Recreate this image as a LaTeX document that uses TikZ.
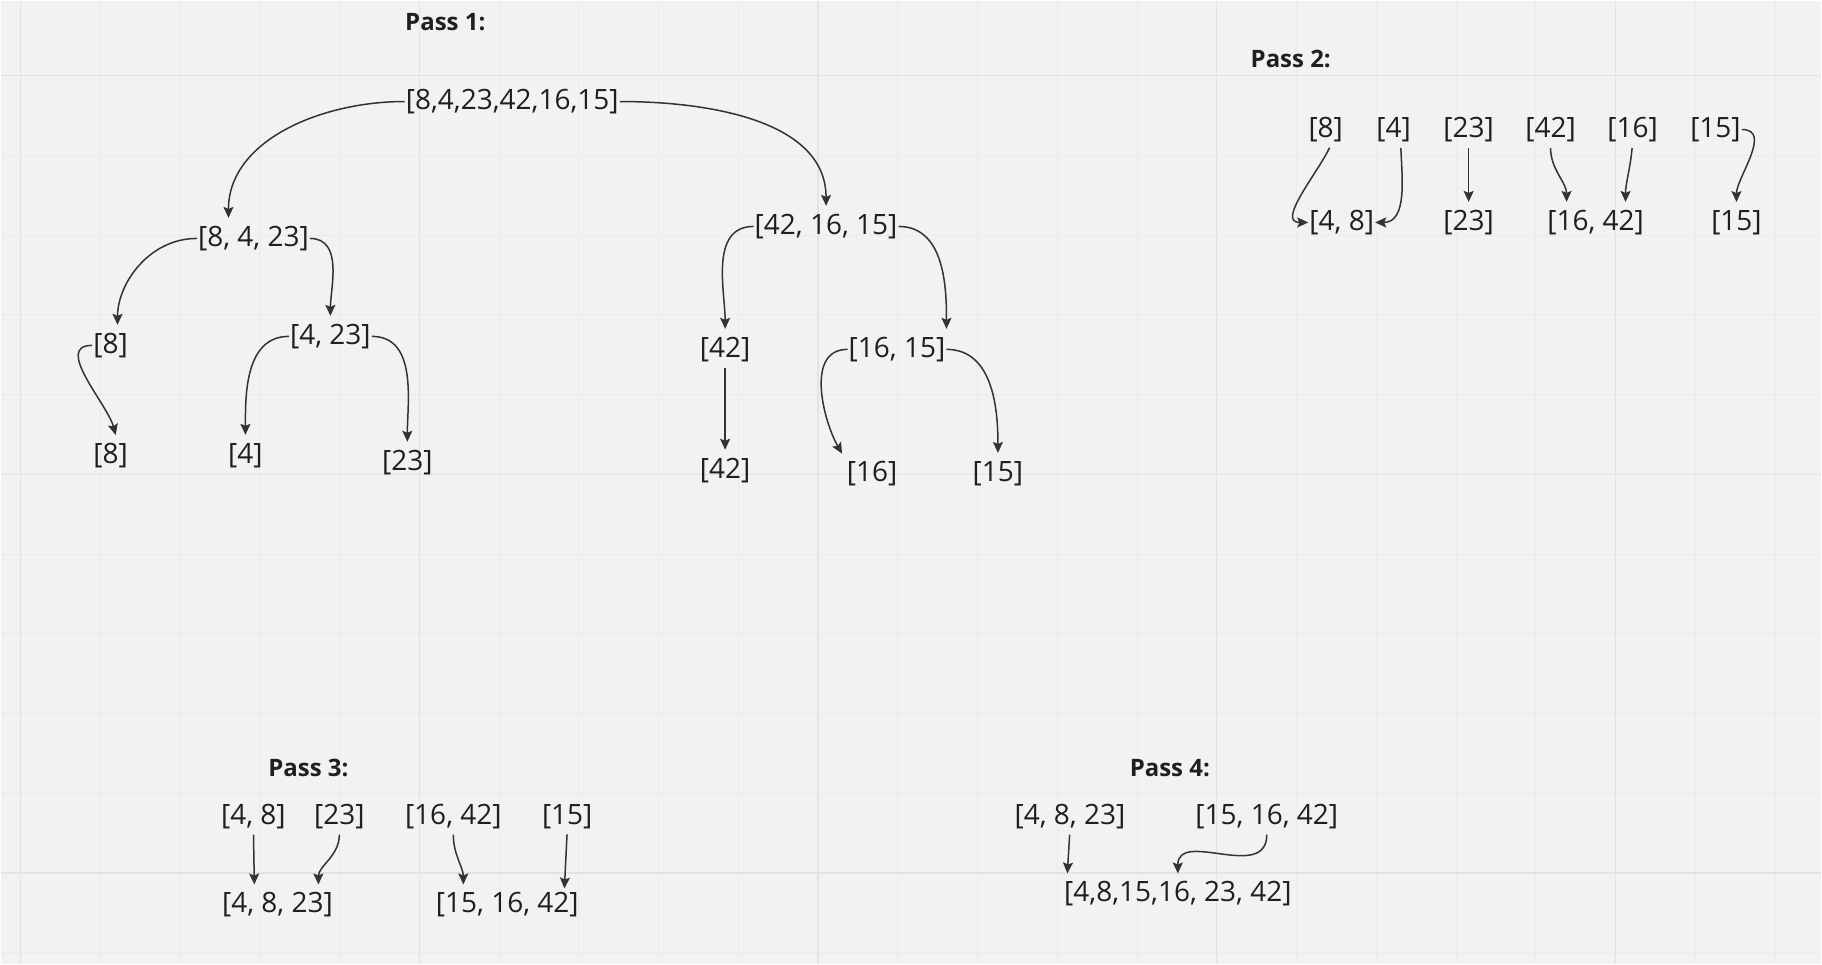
\documentclass[tikz,border=0pt]{standalone}
\usepackage{fontspec}
\setmainfont{Open Sans}
\usetikzlibrary{arrows.meta}

\begin{document}
\begin{tikzpicture}[x=1pt,y=-1pt,
		list/.style={inner sep=1pt,text=black!88,font=\fontsize{28}{32}\selectfont},
		passlabel/.style={inner sep=0pt,text=black!88,font=\fontsize{24}{28}\selectfont\bfseries},
		link/.style={color=black!80,line width=1.5pt,shorten >=7pt,-{Stealth[length=11pt,width=10pt,inset=2pt]}}]
		% board with grid
		\fill[black!5] (0,0) rectangle (1822,964);
		\foreach \k in {0,...,22}
			\draw[black!8,line width=1pt] (20+79.8*\k,0) -- (20+79.8*\k,964);
		\foreach \k in {0,...,11}
			\draw[black!8,line width=1pt] (0,75+79.8*\k) -- (1822,75+79.8*\k);
		\foreach \k in {0,...,4}
			\draw[black!11,line width=1.2pt] (20+399*\k,0) -- (20+399*\k,964);
		\foreach \k in {0,...,2}
			\draw[black!11,line width=1.2pt] (0,75+399*\k) -- (1822,75+399*\k);
		% pass 1
		\draw (445,22) node [passlabel] (p1) {Pass 1:};
		\draw (512,101) node [list] (all) {[8,4,23,42,16,15]};
		\draw (253,238) node [list] (l843) {[8, 4, 23]};
		\draw (826,226) node [list] (r4216) {[42, 16, 15]};
		\draw (110,345) node [list] (l8) {[8]};
		\draw (330,336) node [list] (l423) {[4, 23]};
		\draw (725,349) node [list] (r42) {[42]};
		\draw (897,349) node [list] (r1615) {[16, 15]};
		\draw (110,455) node [list] (l8b) {[8]};
		\draw (245,455) node [list] (l4) {[4]};
		\draw (407,462) node [list] (l23) {[23]};
		\draw (725,470) node [list] (r42b) {[42]};
		\draw (872,473) node [list] (r16) {[16]};
		\draw (998,473) node [list] (r15) {[15]};
		\path[link]
			(all.west) edge [out=180,in=90] ([xshift=-25pt]l843.north)
			(all.east) edge [out=0,in=90] (r4216.north)
			(l843.west) edge [out=180,in=90] ([xshift=7pt]l8.north)
			(l843.east) edge [out=0,in=90] (l423.north)
			(l8.west) edge [out=180,in=105] ([xshift=7pt]l8b.north)
			(l423.west) edge [out=180,in=90] (l4.north)
			(l423.east) edge [out=0,in=90] (l23.north)
			(r4216.west) edge [out=180,in=90] (r42.north)
			(r4216.east) edge [out=0,in=90] (r1615.north east)
			(r42.south) edge [shorten <=5pt] (r42b.north)
			(r1615.west) edge [out=180,in=120] (r16.north west)
			(r1615.east) edge [out=0,in=90] (r15.north);
		% pass 2
		\draw (1291,58) node [passlabel] (p2) {Pass 2:};
		\draw (1326,129) node [list] (u8) {[8]};
		\draw (1394,129) node [list] (u4) {[4]};
		\draw (1469,129) node [list] (u23) {[23]};
		\draw (1551,129) node [list] (u42) {[42]};
		\draw (1633,129) node [list] (u16) {[16]};
		\draw (1716,129) node [list] (u15) {[15]};
		\draw (1342,222) node [list] (v48) {[4, 8]};
		\draw (1469,222) node [list] (v23) {[23]};
		\draw (1596,222) node [list] (v1642) {[16, 42]};
		\draw (1737,222) node [list] (v15) {[15]};
		\path[link]
			([xshift=6pt]u8.south) edge [shorten <=5pt,shorten >=0pt,out=-115,in=180] (v48.west)
			([xshift=7pt]u4.south) edge [shorten <=5pt,shorten >=0pt,out=-88,in=0] (v48.east)
			(u23.south) edge [shorten <=5pt] (v23.north)
			(u42.south) edge [shorten <=5pt,out=-90,in=90] ([xshift=-29pt]v1642.north)
			(u16.south) edge [shorten <=5pt,out=-95,in=90] ([xshift=30pt]v1642.north)
			(u15.east) edge [out=0,in=90] (v15.north);
		% pass 3
		\draw (308,768) node [passlabel] (p3) {Pass 3:};
		\draw (253,817) node [list] (c48) {[4, 8]};
		\draw (339,817) node [list] (c23) {[23]};
		\draw (453,817) node [list] (c1642) {[16, 42]};
		\draw (567,817) node [list] (c15) {[15]};
		\draw (277,905) node [list] (d4823) {[4, 8, 23]};
		\draw (507,905) node [list] (d151642) {[15, 16, 42]};
		\path[link]
			(c48.south) edge [shorten <=4pt] ([xshift=-23pt]d4823.north)
			(c23.south) edge [shorten <=4pt,out=-90,in=90] ([xshift=41pt]d4823.north)
			(c1642.south) edge [shorten <=4pt,out=-90,in=90] ([xshift=-44pt]d151642.north)
			(c15.south) edge [shorten <=4pt,shorten >=3pt] ([xshift=57pt]d151642.north);
		% pass 4
		\draw (1170,768) node [passlabel] (p4) {Pass 4:};
		\draw (1070,817) node [list] (f4823) {[4, 8, 23]};
		\draw (1267,817) node [list] (f151642) {[15, 16, 42]};
		\draw (1178,894) node [list] (fall) {[4,8,15,16, 23, 42]};
		\path[link]
			(f4823.south) edge [shorten <=4pt] ([xshift=-111pt]fall.north)
			(f151642.south) edge [shorten <=4pt,out=-90,in=90,looseness=1.3] (fall.north);
	\end{tikzpicture}
\end{document}
